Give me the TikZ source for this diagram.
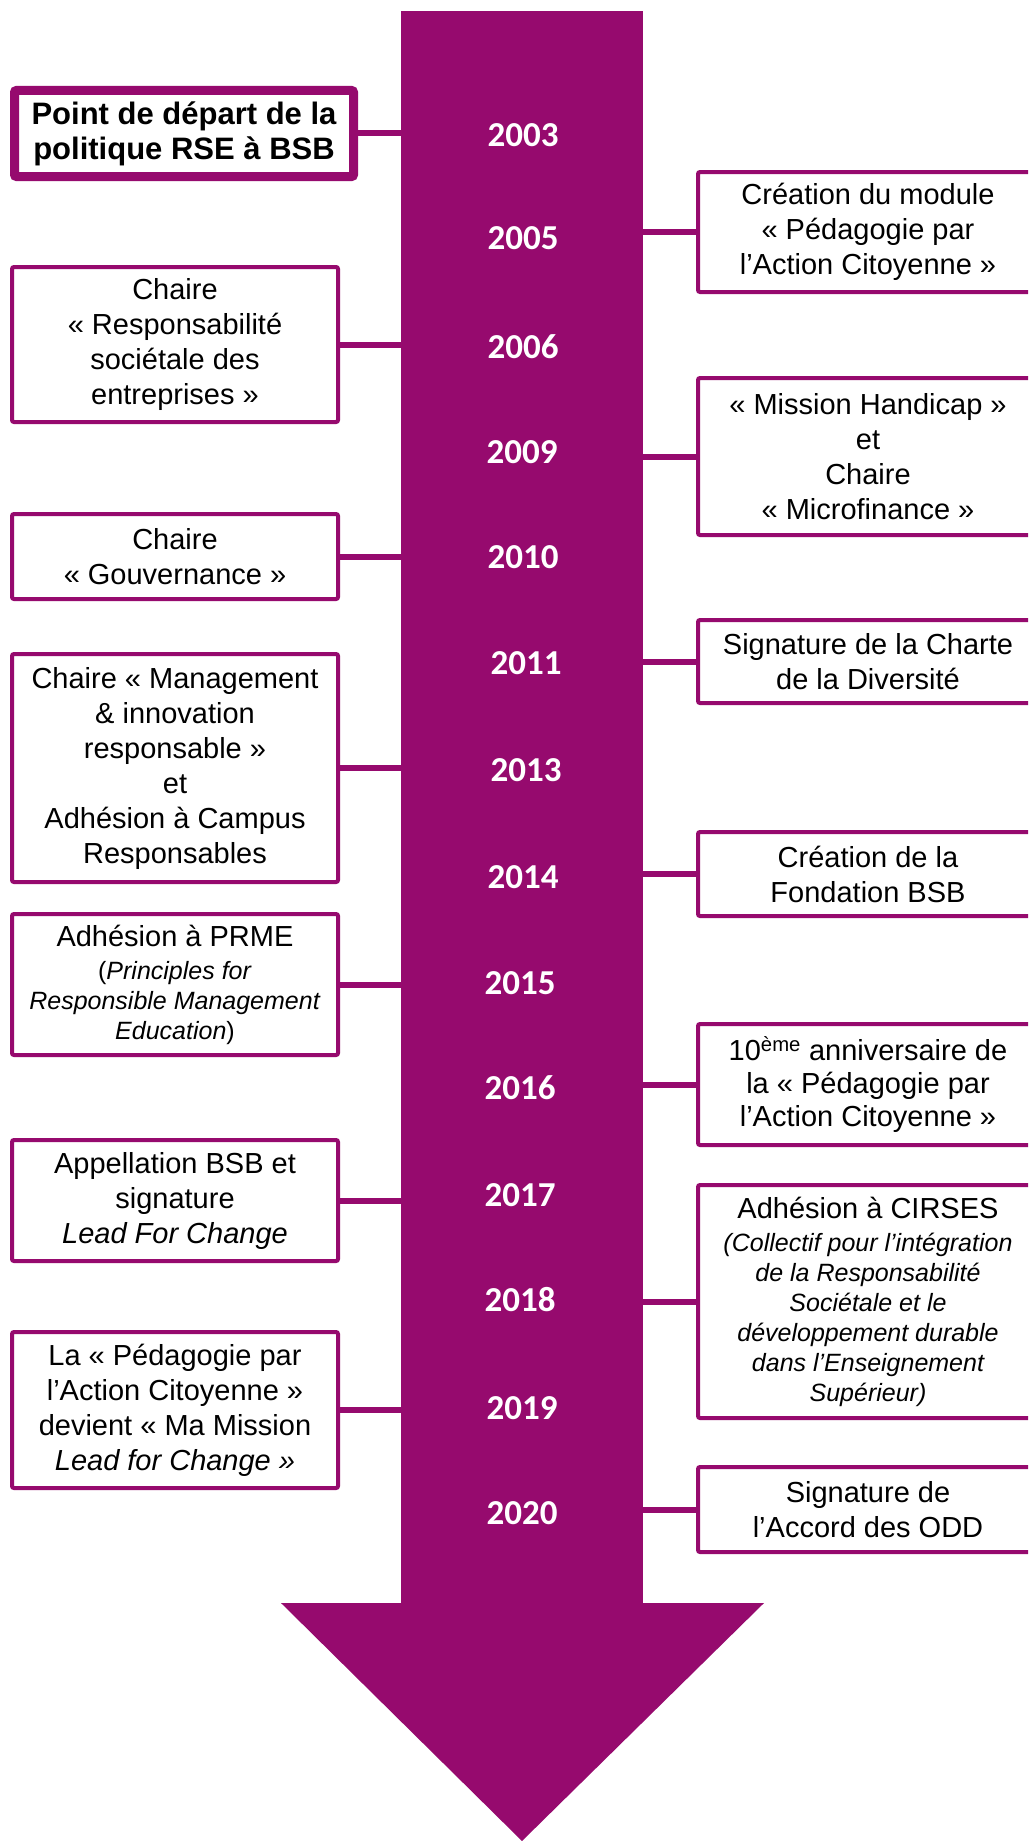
\documentclass[tikz,border=0pt]{standalone}
\usepackage{fontspec}
\setmainfont{Liberation Sans}
\newfontfamily\yearfont{Carlito}
\definecolor{bsb}{RGB}{150,10,110}
\tikzset{
  box/.style={draw=bsb, line width=4pt, fill=white, rounded corners=2pt, align=center,
    inner sep=0pt, text=black, font=\fontsize{29}{35}\selectfont,
    execute at begin node={\centering\spaceskip=0pt\xspaceskip=0pt}},
  leftbox/.style={box, minimum width=326pt, text width=318pt, minimum height=#1},
  rightbox/.style={box, minimum width=340pt, text width=334pt, minimum height=#1},
  firstbox/.style={box, line width=9pt, minimum width=339pt, text width=330pt, minimum height=#1,
    font=\fontsize{31}{35}\selectfont\bfseries},
  conn/.style={draw=bsb, line width=6pt},
  year/.style={text=white, inner sep=0pt, font=\yearfont\bfseries\fontsize{35}{40}\selectfont}
}
\begin{document}
\begin{tikzpicture}[x=1pt,y=-1pt]
\useasboundingbox (0,0) rectangle (1028,1841);
\clip (0,0) rectangle (1028,1841);
\fill[white] (0,0) rectangle (1028,1841);

% arrow
\node[fill=bsb, draw=none, minimum width=242pt, minimum height=1594pt, inner sep=0pt] (shaft) at (522,808) {};
\coordinate (hl) at (281,1603);
\coordinate (hr) at (764,1603);
\coordinate (tip) at (522,1841);
\fill[bsb] (hl) -- (hr) -- (tip) -- cycle;

% left boxes
\node[firstbox=86pt] (L1) at (184,133.5) {Point de départ de la\\politique RSE à BSB};
\node[leftbox=155pt] (L2) at (175,344.5) {Chaire\\« Responsabilité\\sociétale des\\entreprises »};
\node[leftbox=85pt] (L3) at (175,556.5) {Chaire\\« Gouvernance »};
\node[leftbox=228pt] (L4) at (175,768) {Chaire « Management\\\& innovation\\responsable »\\et\\Adhésion à Campus\\Responsables};
\node[leftbox=141pt, font=\fontsize{29}{30}\selectfont] (L5) at (175,984.5) {Adhésion à PRME\\[3pt]{\fontsize{25}{30}\selectfont(\textit{Principles for}\\\textit{Responsible Management}\\\textit{Education})}};
\node[leftbox=121pt] (L6) at (175,1200.5) {Appellation BSB et\\signature\\\textit{Lead For Change}};
\node[leftbox=156pt] (L7) at (175,1410) {La « Pédagogie par\\l’Action Citoyenne »\\devient « Ma Mission\\\textit{Lead for Change »}};

% right boxes
\node[rightbox=120pt] (R1) at (868,232) {Création du module\\« Pédagogie par\\l’Action Citoyenne »};
\node[rightbox=157pt] (R2) at (868,456.5) {« Mission Handicap »\\et\\Chaire\\« Microfinance »};
\node[rightbox=83pt] (R3) at (868,661.5) {Signature de la Charte\\de la Diversité};
\node[rightbox=84pt] (R4) at (868,874) {Création de la\\Fondation BSB};
\node[rightbox=121pt, font=\fontsize{29}{33}\selectfont] (R5) at (868,1084.5) {10\textsuperscript{ème} anniversaire de\\la « Pédagogie par\\l’Action Citoyenne »};
\node[rightbox=233pt, font=\fontsize{29}{30}\selectfont] (R6) at (868,1301.5) {Adhésion à CIRSES\\[3pt]{\fontsize{25}{30}\selectfont\itshape (Collectif pour l’intégration\\de la Responsabilité\\Sociétale et le\\développement durable\\dans l’Enseignement\\Supérieur)}};
\node[rightbox=85pt] (R7) at (868,1509.5) {Signature de\\l’Accord des ODD};

% connectors
\foreach \b in {L1,L2,L3,L4,L5,L6,L7}{
  \draw[conn] (\b.east) -- (\b.east -| shaft.west);
}
\foreach \b in {R1,R2,R3,R4,R5,R6,R7}{
  \draw[conn] (\b.west -| shaft.east) -- (\b.west);
}

% years
\node[year] (y2003) at (523,135) {2003};
\node[year] (y2005) at (523,238) {2005};
\node[year] (y2006) at (523,347) {2006};
\node[year] (y2009) at (522,452) {2009};
\node[year] (y2010) at (523,557) {2010};
\node[year] (y2011) at (526,663) {2011};
\node[year] (y2013) at (526,770) {2013};
\node[year] (y2014) at (523,877) {2014};
\node[year] (y2015) at (520,983) {2015};
\node[year] (y2016) at (520,1088) {2016};
\node[year] (y2017) at (520,1195) {2017};
\node[year] (y2018) at (520,1300) {2018};
\node[year] (y2019) at (522,1408) {2019};
\node[year] (y2020) at (522,1513) {2020};
\end{tikzpicture}
\end{document}
